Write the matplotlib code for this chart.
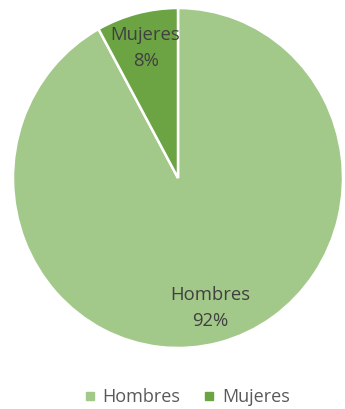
import matplotlib
matplotlib.use("Agg")
import matplotlib.pyplot as plt
from matplotlib.lines import Line2D
import numpy as np

categories = ["Hombres", "Mujeres"]
values = [92, 8]
colors = ["#A3C98A", "#6CA443"]

W, H = 345, 409
fig = plt.figure(figsize=(W / 100, H / 100), dpi=100)
# pie box in pixels: x 13..343, y 8..348
ax = fig.add_axes([13 / W, 1 - 348 / H, 330 / W, 340 / H])

font = ["Open Sans", "DejaVu Sans"]
wedges, _ = ax.pie(values, colors=colors, startangle=90, counterclock=False,
                   radius=1.0, center=(0, 0), frame=False,
                   wedgeprops=dict(edgecolor="white", linewidth=1.8))
ax.set_xlim(-1, 1)
ax.set_ylim(-1, 1)
ax.set_aspect("auto")
ax.axis("off")

total = sum(values)
for w, name, v in zip(wedges, categories, values):
    mid = np.deg2rad((w.theta1 + w.theta2) / 2)
    r = 0.79
    ax.text(r * np.cos(mid), r * np.sin(mid), f"{name}\n{round(100 * v / total)}%",
            ha="center", va="center", fontsize=13.3, color="#404040",
            family=font, linespacing=1.6)

handles = [Line2D([], [], marker="s", linestyle="none", markersize=5.5,
                  markerfacecolor=c, markeredgecolor=c) for c in colors]
fig.legend(handles, categories, loc="center", bbox_to_anchor=(187 / W, 1 - 397 / H),
           ncol=2, frameon=False, handlelength=0.6, handletextpad=0.4,
           columnspacing=1.3, prop={"family": font, "size": 13},
           labelcolor="#595959")

fig.savefig("out.png", dpi=100)
